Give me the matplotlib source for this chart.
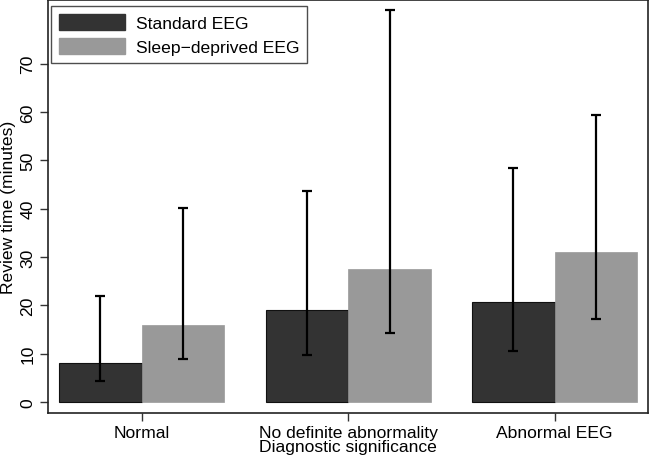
import matplotlib
matplotlib.use("Agg")
import matplotlib.pyplot as plt
import numpy as np
from matplotlib.patches import Patch

plt.rcParams['font.family'] = ['Liberation Sans', 'DejaVu Sans']

categories = ["Normal", "No definite abnormality", "Abnormal EEG"]
series = ["Standard EEG", "Sleep\u2212deprived EEG"]
standard_mean = [8.1, 19.1, 20.6]
standard_low = [4.3, 9.7, 10.6]
standard_high = [22.0, 43.6, 48.5]
sleep_mean = [16.0, 27.5, 31.1]
sleep_low = [8.8, 14.3, 17.2]
sleep_high = [40.1, 81.2, 59.4]
yticks = [0, 10, 20, 30, 40, 50, 60, 70]

FS = 12.6

fig = plt.figure(figsize=(6.49, 4.60), dpi=100)
ax = fig.add_axes([48/649, 1 - 414/460, 600/649, 413/460])

x = np.arange(len(categories))
w = 0.4
dark = "#333333"
light = "#999999"

ax.bar(x - w/2, standard_mean, width=w, color=dark, edgecolor="#111111", linewidth=0.8, zorder=2)
ax.bar(x + w/2, sleep_mean, width=w, color=light, edgecolor=light, linewidth=0.5, zorder=2)

sm = np.array(standard_mean)
ax.errorbar(x - w/2, sm, yerr=[sm - np.array(standard_low), np.array(standard_high) - sm],
            fmt="none", ecolor="black", elinewidth=1.6, capsize=3.3, capthick=1.6, zorder=3)
lm = np.array(sleep_mean)
ax.errorbar(x + w/2, lm, yerr=[lm - np.array(sleep_low), np.array(sleep_high) - lm],
            fmt="none", ecolor="black", elinewidth=1.6, capsize=3.3, capthick=1.6, zorder=3)

ax.set_xlim(-0.454, 2.452)
ax.set_ylim(-2.3, 83.2)
ax.set_yticks(yticks)
ax.set_yticklabels([str(t) for t in yticks], rotation=90, va="center", fontsize=FS)
ax.set_xticks(x)
ax.set_xticklabels(categories, fontsize=FS)
ax.set_xlabel("Diagnostic significance", fontsize=FS, labelpad=-1)
ax.set_ylabel("Review time (minutes)", fontsize=FS, labelpad=3)
ax.tick_params(axis="both", direction="out", length=6, width=1, color="#333333", pad=3)
for s in ax.spines.values():
    s.set_linewidth(1.2)
    s.set_color("#222222")

handles = [Patch(facecolor=dark, edgecolor=dark), Patch(facecolor=light, edgecolor=light)]
leg = ax.legend(handles, series, loc="upper left", bbox_to_anchor=(0.005, 0.985),
                fontsize=FS, frameon=True, fancybox=False, edgecolor="#222222",
                handlelength=3.75, handleheight=1.03, borderpad=0.45, labelspacing=0.4,
                handletextpad=0.63, borderaxespad=0)
leg.get_frame().set_linewidth(1.0)

fig.savefig("out.png", dpi=100)
